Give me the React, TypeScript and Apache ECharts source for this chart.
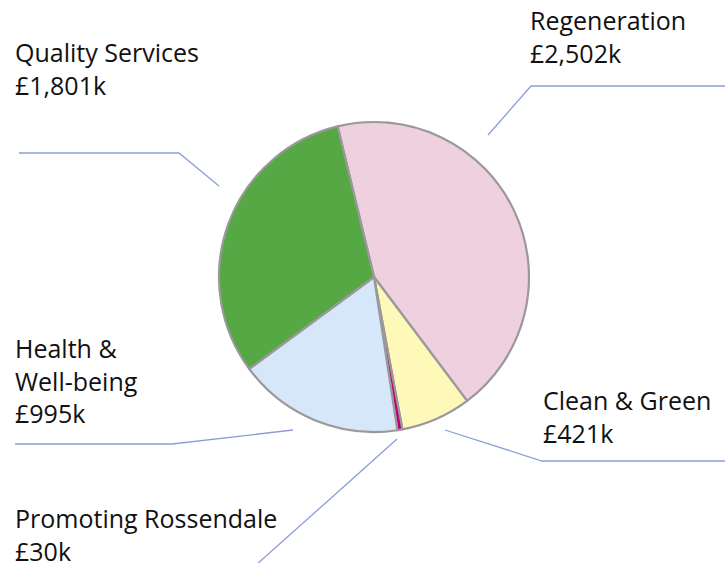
import React, { useEffect, useRef } from "react";
import * as echarts from "echarts";

const categories = ["Regeneration", "Clean & Green", "Promoting Rossendale", "Health & Well-being", "Quality Services"];
const labelNames = ["Regeneration", "Clean & Green", "Promoting Rossendale", "Health &\nWell-being", "Quality Services"];
const values = [2502, 421, 30, 995, 1801];
const colors = ["#efd0de", "#fef9b8", "#c0007a", "#d5e7f8", "#55a843"];

// label anchor (top-left of text block) and leader line points, per slice
const labelPos: number[][] = [
  [530, 4],
  [543, 384],
  [15, 502],
  [15, 332],
  [15, 36],
];
const linePts: number[][][] = [
  [[488, 135], [531, 86], [725, 86]],
  [[445, 430], [542, 461], [725, 461]],
  [[397, 439], [330, 499], [256, 565]],
  [[293, 430], [172, 444], [15, 444]],
  [[219, 186], [179, 153], [19, 153]],
];

const fmt = (v: number) => "£" + v.toLocaleString("en-GB") + "k";

export default function App() {
  const ref = useRef<HTMLDivElement>(null);
  useEffect(() => {
    if (!ref.current) return;
    const chart = echarts.init(ref.current, null, { renderer: "svg" });
    chart.setOption({
      animation: false,
      series: [
        {
          type: "pie",
          center: [374, 277],
          radius: 155,
          startAngle: 103.6,
          clockwise: true,
          avoidLabelOverlap: false,
          itemStyle: { borderColor: "#999999", borderWidth: 2.2 },
          data: categories.map((c, i) => ({
            name: c,
            value: values[i],
            itemStyle: { color: colors[i] },
          })),
          label: {
            show: true,
            position: "outside",
            formatter: (p: any) => labelNames[p.dataIndex] + "\n" + fmt(p.value),
            fontFamily: "Open Sans",
            fontSize: 25,
            lineHeight: 32.5,
            color: "#111111",
          },
          labelLine: {
            show: true,
            lineStyle: { color: "#8c9ed8", width: 1.3 },
          },
          labelLayout: (p: any) => {
            const i = p.dataIndex;
            return {
              x: labelPos[i][0],
              y: labelPos[i][1],
              align: "left",
              verticalAlign: "top",
              labelLinePoints: linePts[i],
            };
          },
          emphasis: { disabled: true },
        },
      ],
    });
    return () => chart.dispose();
  }, []);
  return (
    <div
      ref={ref}
      style={{ position: "fixed", left: 0, top: 0, width: 725, height: 563, background: "#fff" }}
    />
  );
}
